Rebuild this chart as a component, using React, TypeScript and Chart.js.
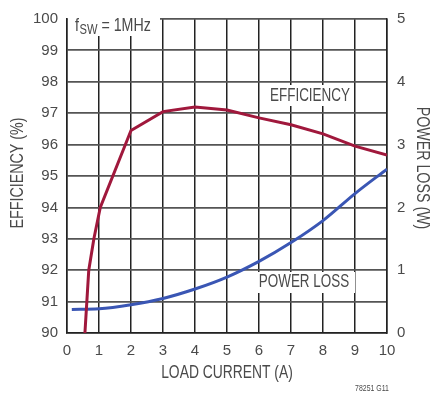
import React, { useEffect, useRef } from "react";
import { Chart, registerables } from "chart.js";

Chart.register(...registerables);

const effCurrent = [0.56, 0.62, 0.68, 0.84, 1.04, 2, 3, 4, 5, 6, 7, 8, 9, 10];
const effValues = [90, 91, 92, 93, 94, 96.45, 97.05, 97.2, 97.1, 96.85, 96.63, 96.34, 95.95, 95.67];
const lossCurrent = [0.15, 1, 2, 3, 4, 5, 6, 7, 8, 9, 10];
const lossValues = [0.375, 0.385, 0.45, 0.55, 0.7, 0.89, 1.14, 1.44, 1.79, 2.22, 2.61];

const xTitle = "LOAD CURRENT (A)";
const yTitle = "EFFICIENCY (%)";
const y2Title = "POWER LOSS (W)";
const effLabel = "EFFICIENCY";
const lossLabel = "POWER LOSS";
const footnote = "78251 G11";

const FONT = "'Liberation Sans', Arial, sans-serif";
const TEXT = "#4a4a4a";
const SQUEEZE = 0.77;

function drawText(ctx: any, text: string, x: number, y: number, size: number, rot = 0, align = "center") {
  ctx.save();
  ctx.translate(x, y);
  if (rot) ctx.rotate(rot);
  ctx.scale(SQUEEZE, 1);
  ctx.font = `${size}px ${FONT}`;
  ctx.textAlign = align;
  ctx.textBaseline = "middle";
  ctx.fillText(text, 0, 0);
  const w = ctx.measureText(text).width * SQUEEZE;
  ctx.restore();
  return w;
}

const annotations = {
  id: "annotations",
  beforeDatasetsDraw(chart: any) {
    const { ctx } = chart;
    ctx.save();
    ctx.fillStyle = "#ffffff";
    ctx.fillRect(68, 14, 92, 22);
    ctx.fillRect(266, 85, 88, 21);
    ctx.fillRect(253, 272, 102, 21);
    ctx.restore();
  },
  afterDraw(chart: any) {
    const { ctx } = chart;
    ctx.save();
    ctx.fillStyle = TEXT;
    let x = 75;
    x += drawText(ctx, "f", x, 25.5, 18.5, 0, "left") + 0.5;
    x += drawText(ctx, "SW", x, 30, 14.5, 0, "left");
    drawText(ctx, " = 1MHz", x, 25.5, 18.5, 0, "left");

    drawText(ctx, effLabel, 310, 96.5, 17.5);
    drawText(ctx, lossLabel, 304, 282.5, 17.5);
    drawText(ctx, xTitle, 227, 373, 18);
    drawText(ctx, yTitle, 18, 173, 18.5, -Math.PI / 2);
    drawText(ctx, y2Title, 422, 168, 18.5, Math.PI / 2);
    drawText(ctx, footnote, 372, 389, 9);
    ctx.restore();
  },
};

export default function App() {
  const ref = useRef<HTMLCanvasElement>(null);
  useEffect(() => {
    if (!ref.current) return;
    const tickFont = { family: FONT, size: 15 };
    const chart = new Chart(ref.current, {
      type: "line",
      data: {
        datasets: [
          {
            label: "Efficiency",
            data: effCurrent.map((x, i) => ({ x, y: effValues[i] })),
            borderColor: "#a0183c",
            borderWidth: 3,
            pointRadius: 0,
            tension: 0,
            yAxisID: "y",
          },
          {
            label: "Power Loss",
            data: lossCurrent.map((x, i) => ({ x, y: lossValues[i] })),
            borderColor: "#3a56b4",
            borderWidth: 3,
            pointRadius: 0,
            cubicInterpolationMode: "monotone",
            yAxisID: "y2",
          },
        ],
      },
      options: {
        responsive: false,
        animation: false,
        layout: { padding: { top: 13, left: 0, right: 0, bottom: 0 } },
        plugins: { legend: { display: false }, tooltip: { enabled: false } },
        scales: {
          x: {
            type: "linear",
            min: 0,
            max: 10,
            ticks: { stepSize: 1, color: TEXT, padding: 9, font: tickFont },
            grid: { color: "#222", lineWidth: 1.5, drawTicks: false },
            border: { color: "#222", width: 1.5 },
            afterFit: (s: any) => { s.height = 67; },
          },
          y: {
            position: "left",
            min: 90,
            max: 100,
            ticks: { stepSize: 1, color: TEXT, padding: 9, font: tickFont },
            grid: { color: "#555", lineWidth: 1.8, drawTicks: false },
            border: { color: "#222", width: 1.5 },
            afterFit: (s: any) => { s.width = 67; },
          },
          y2: {
            position: "right",
            min: 0,
            max: 5,
            ticks: { stepSize: 1, color: TEXT, padding: 10, font: tickFont },
            grid: { display: false, drawTicks: false },
            border: { color: "#222", width: 1.5 },
            afterFit: (s: any) => { s.width = 45; },
          },
        },
      },
      plugins: [annotations],
    } as any);
    return () => chart.destroy();
  }, []);
  return (
    <div style={{ position: "absolute", left: 0, top: 0, width: 432, height: 400, background: "#fff" }}>
      <canvas ref={ref} width={432} height={400} />
    </div>
  );
}
